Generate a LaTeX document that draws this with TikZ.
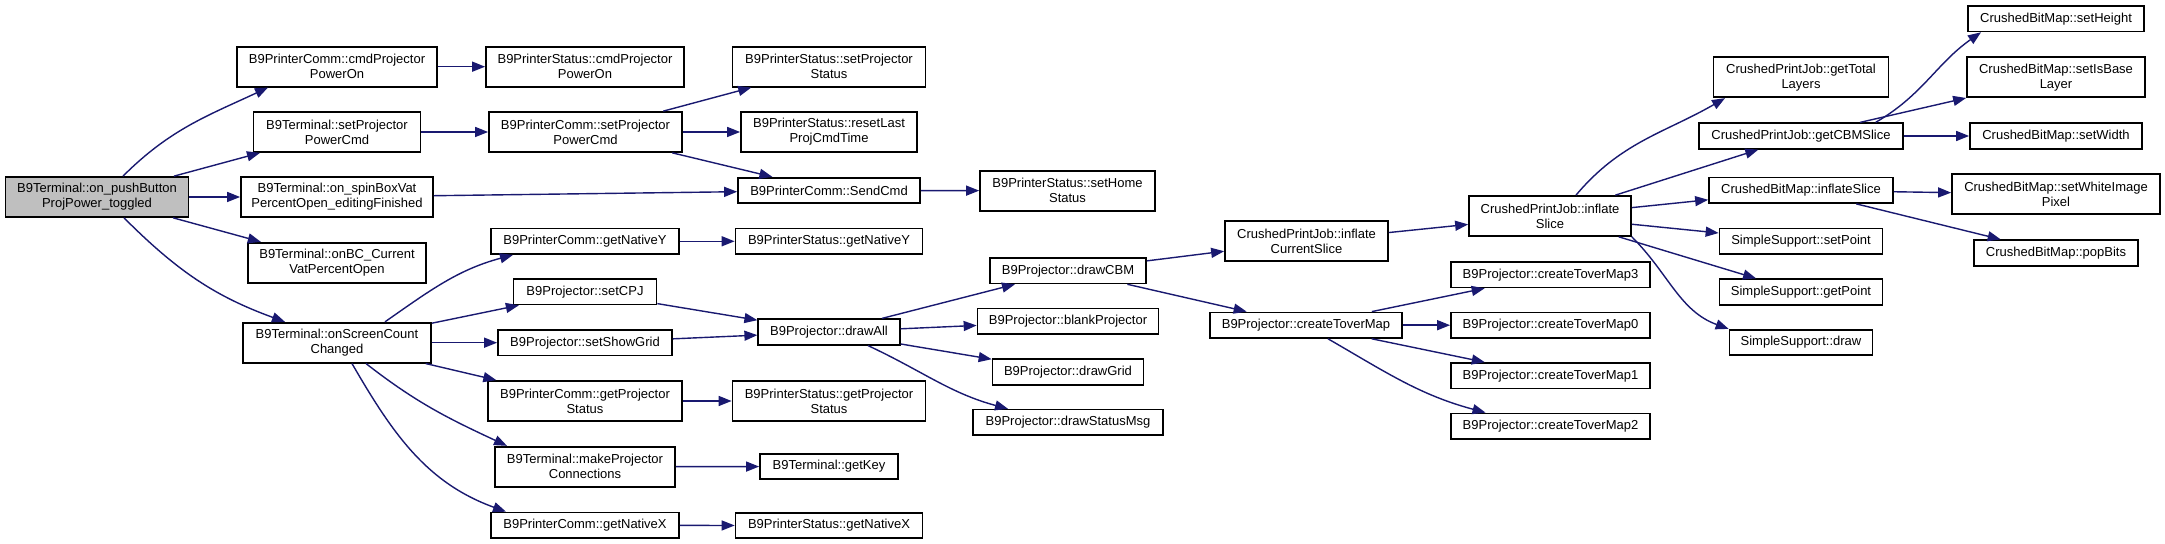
\documentclass[tikz,border=0pt]{standalone}
\usepackage{fontspec}
\setmainfont{Liberation Sans}
\usepackage{tikz}
\usetikzlibrary{arrows.meta}
\definecolor{edgeBlue}{HTML}{191970}
\definecolor{rootGray}{HTML}{BFBFBF}

\begin{document}
\begin{tikzpicture}[x=0.5pt, y=-0.5pt, every node/.style={font=\fontsize{6.5}{7.5}\selectfont},
  fn/.style={draw, line width=0.85pt, fill=white, align=center, inner sep=0pt, minimum height=12.75pt},
  fn2/.style={fn, minimum height=20pt},
  call/.style={edgeBlue, line width=0.7pt, -{Triangle[length=6.5pt,width=5pt]}}]
\useasboundingbox (0,0) rectangle (2165,544);
% caller
\node[fn2,fill=rootGray,minimum width=91.5pt] (root) at (97,197) {B9Terminal::on\_pushButton\\ProjPower\_toggled};
% first level
\node[fn2,minimum width=100pt] (pcPow) at (337,66.7) {B9PrinterComm::cmdProjector\\PowerOn};
\node[fn2,minimum width=83.5pt] (tSetPow) at (337,132) {B9Terminal::setProjector\\PowerCmd};
\node[fn2,minimum width=96pt] (tSpin) at (337,197) {B9Terminal::on\_spinBoxVat\\PercentOpen\_editingFinished};
\node[fn2,minimum width=89pt] (tBC) at (337,262.7) {B9Terminal::onBC\_Current\\VatPercentOpen};
\node[fn2,minimum width=94pt] (tScreen) at (337,342.7) {B9Terminal::onScreenCount\\Changed};
% second level
\node[fn2,minimum width=99pt] (psPow) at (585,66.7) {B9PrinterStatus::cmdProjector\\PowerOn};
\node[fn2,minimum width=96.5pt] (pcSetPow) at (585.5,132) {B9PrinterComm::setProjector\\PowerCmd};
\node[fn,minimum width=94pt] (pcNatY) at (585,241.3) {B9PrinterComm::getNativeY};
\node[fn,minimum width=71.5pt] (pjCPJ) at (585,291.7) {B9Projector::setCPJ};
\node[fn,minimum width=87pt] (pjGrid) at (585,342.7) {B9Projector::setShowGrid};
\node[fn2,minimum width=97pt] (pcStat) at (585,401) {B9PrinterComm::getProjector\\Status};
\node[fn2,minimum width=90pt] (tConn) at (585,466.7) {B9Terminal::makeProjector\\Connections};
\node[fn,minimum width=94pt] (pcNatX) at (585,525.3) {B9PrinterComm::getNativeX};
% third level
\node[fn2,minimum width=96.5pt] (psSetStat) at (829,66.7) {B9PrinterStatus::setProjector\\Status};
\node[fn2,minimum width=88pt] (psReset) at (829,132) {B9PrinterStatus::resetLast\\ProjCmdTime};
\node[fn,minimum width=91pt] (pcSend) at (829,190.5) {B9PrinterComm::SendCmd};
\node[fn,minimum width=93.5pt] (psNatY) at (829,241.3) {B9PrinterStatus::getNativeY};
\node[fn,minimum width=70.75pt] (pjAll) at (829,332) {B9Projector::drawAll};
\node[fn2,minimum width=96.5pt] (psStat) at (829,401) {B9PrinterStatus::getProjector\\Status};
\node[fn,minimum width=69pt] (tKey) at (829,466.5) {B9Terminal::getKey};
\node[fn,minimum width=93.5pt] (psNatX) at (829,525.6) {B9PrinterStatus::getNativeX};
% fourth level
\node[fn2,minimum width=87.5pt] (psHome) at (1067.5,190.7) {B9PrinterStatus::setHome\\Status};
\node[fn,minimum width=78pt] (pjCBM) at (1068,270.7) {B9Projector::drawCBM};
\node[fn,minimum width=90.5pt] (pjBlank) at (1068,321.4) {B9Projector::blankProjector};
\node[fn,minimum width=75.5pt] (pjDGrid) at (1068,372) {B9Projector::drawGrid};
\node[fn,minimum width=95pt] (pjMsg) at (1068,422.4) {B9Projector::drawStatusMsg};
% fifth level
\node[fn2,minimum width=81.5pt] (cjCur) at (1306.5,241) {CrushedPrintJob::inflate\\CurrentSlice};
\node[fn,minimum width=96pt] (pjTov) at (1306,325.2) {B9Projector::createToverMap};
% sixth level
\node[fn2,minimum width=81pt] (cjSlice) at (1550,216) {CrushedPrintJob::inflate\\Slice};
\node[fn,minimum width=99.5pt] (pjTov3) at (1550.5,274.7) {B9Projector::createToverMap3};
\node[fn,minimum width=99.5pt] (pjTov0) at (1550.5,325.2) {B9Projector::createToverMap0};
\node[fn,minimum width=99.5pt] (pjTov1) at (1550.5,375.8) {B9Projector::createToverMap1};
\node[fn,minimum width=99.5pt] (pjTov2) at (1550.5,426.2) {B9Projector::createToverMap2};
% seventh level
\node[fn2,minimum width=87.5pt] (cjLayers) at (1801,77.3) {CrushedPrintJob::getTotal\\Layers};
\node[fn,minimum width=102pt] (cjCBM) at (1801,136) {CrushedPrintJob::getCBMSlice};
\node[fn,minimum width=92pt] (cbInfl) at (1801,190.3) {CrushedBitMap::inflateSlice};
\node[fn,minimum width=81.5pt] (ssSet) at (1801,241.3) {SimpleSupport::setPoint};
\node[fn,minimum width=81.5pt] (ssGet) at (1801,292) {SimpleSupport::getPoint};
\node[fn,minimum width=71.5pt] (ssDraw) at (1801,342.5) {SimpleSupport::draw};
% last level
\node[fn,minimum width=88pt] (cbHeight) at (2056,18.7) {CrushedBitMap::setHeight};
\node[fn2,minimum width=89pt] (cbBase) at (2056,77.3) {CrushedBitMap::setIsBase\\Layer};
\node[fn,minimum width=86pt] (cbWidth) at (2056,136) {CrushedBitMap::setWidth};
\node[fn2,minimum width=104pt] (cbPixel) at (2056,194.3) {CrushedBitMap::setWhiteImage\\Pixel};
\node[fn,minimum width=82pt] (cbPop) at (2056,253) {CrushedBitMap::popBits};
% calls
\draw[call] ([xshift=13pt]root.north) to[out=45,in=205] ([xshift=-34.5pt]pcPow.south);
\draw[call] (root) -- (tSetPow); \draw[call] (root) -- (tSpin); \draw[call] (root) -- (tBC);
\draw[call] ([xshift=13.5pt]root.south) to[out=-45,in=160] ([xshift=-26pt]tScreen.north);
\draw[call] (pcPow) -- (psPow); \draw[call] (tSetPow) -- (pcSetPow);
\draw[call] (pcSetPow) -- (psSetStat); \draw[call] (pcSetPow) -- (psReset); \draw[call] (pcSetPow) -- (pcSend);
\draw[call] (tSpin) -- (pcSend); \draw[call] (pcSend) -- (psHome);
\draw[call] ([xshift=24pt]tScreen.north) to[out=35,in=195] ([xshift=-36pt]pcNatY.south);
\draw[call] (tScreen) -- (pjCPJ); \draw[call] (tScreen) -- (pjGrid); \draw[call] (tScreen) -- (pcStat);
\draw[call] ([xshift=14.5pt]tScreen.south) to[out=-38,in=155] ([xshift=-39pt]tConn.north);
\draw[call] ([xshift=7.5pt]tScreen.south) to[out=-60,in=160] ([xshift=-39.5pt]pcNatX.north);
\draw[call] (pcNatY) -- (psNatY); \draw[call] (pjCPJ) -- (pjAll); \draw[call] (pjGrid) -- (pjAll);
\draw[call] (pcStat) -- (psStat); \draw[call] (tConn) -- (tKey); \draw[call] (pcNatX) -- (psNatX);
\draw[call] (pjAll) -- (pjCBM); \draw[call] (pjAll) -- (pjBlank); \draw[call] (pjAll) -- (pjDGrid);
\draw[call] ([xshift=19.5pt]pjAll.south) to[out=-25,in=165] ([xshift=-30pt]pjMsg.north);
\draw[call] (pjCBM) -- (cjCur); \draw[call] (pjCBM) -- (pjTov); \draw[call] (cjCur) -- (cjSlice);
\draw[call] (pjTov) -- (pjTov3); \draw[call] (pjTov) -- (pjTov0); \draw[call] (pjTov) -- (pjTov1);
\draw[call] ([xshift=11pt]pjTov.south) to[out=-30,in=165] ([xshift=-32.5pt]pjTov2.north);
\draw[call] ([xshift=13pt]cjSlice.north) to[out=50,in=210] ([xshift=-38pt]cjLayers.south);
\draw[call] (cjSlice) -- (cjCBM); \draw[call] (cjSlice) -- (cbInfl);
\draw[call] (cjSlice) -- (ssSet); \draw[call] (cjSlice) -- (ssGet);
\draw[call] (cjSlice.south east) to[out=-45,in=160] (ssDraw.north west);
\draw[call] ([xshift=37.3pt]cjCBM.north) to[out=30,in=215] ([xshift=-37.5pt]cbHeight.south);
\draw[call] (cjCBM) -- (cbBase); \draw[call] (cjCBM) -- (cbWidth);
\draw[call] (cbInfl) -- (cbPixel); \draw[call] (cbInfl) -- (cbPop);
\end{tikzpicture}
\end{document}
